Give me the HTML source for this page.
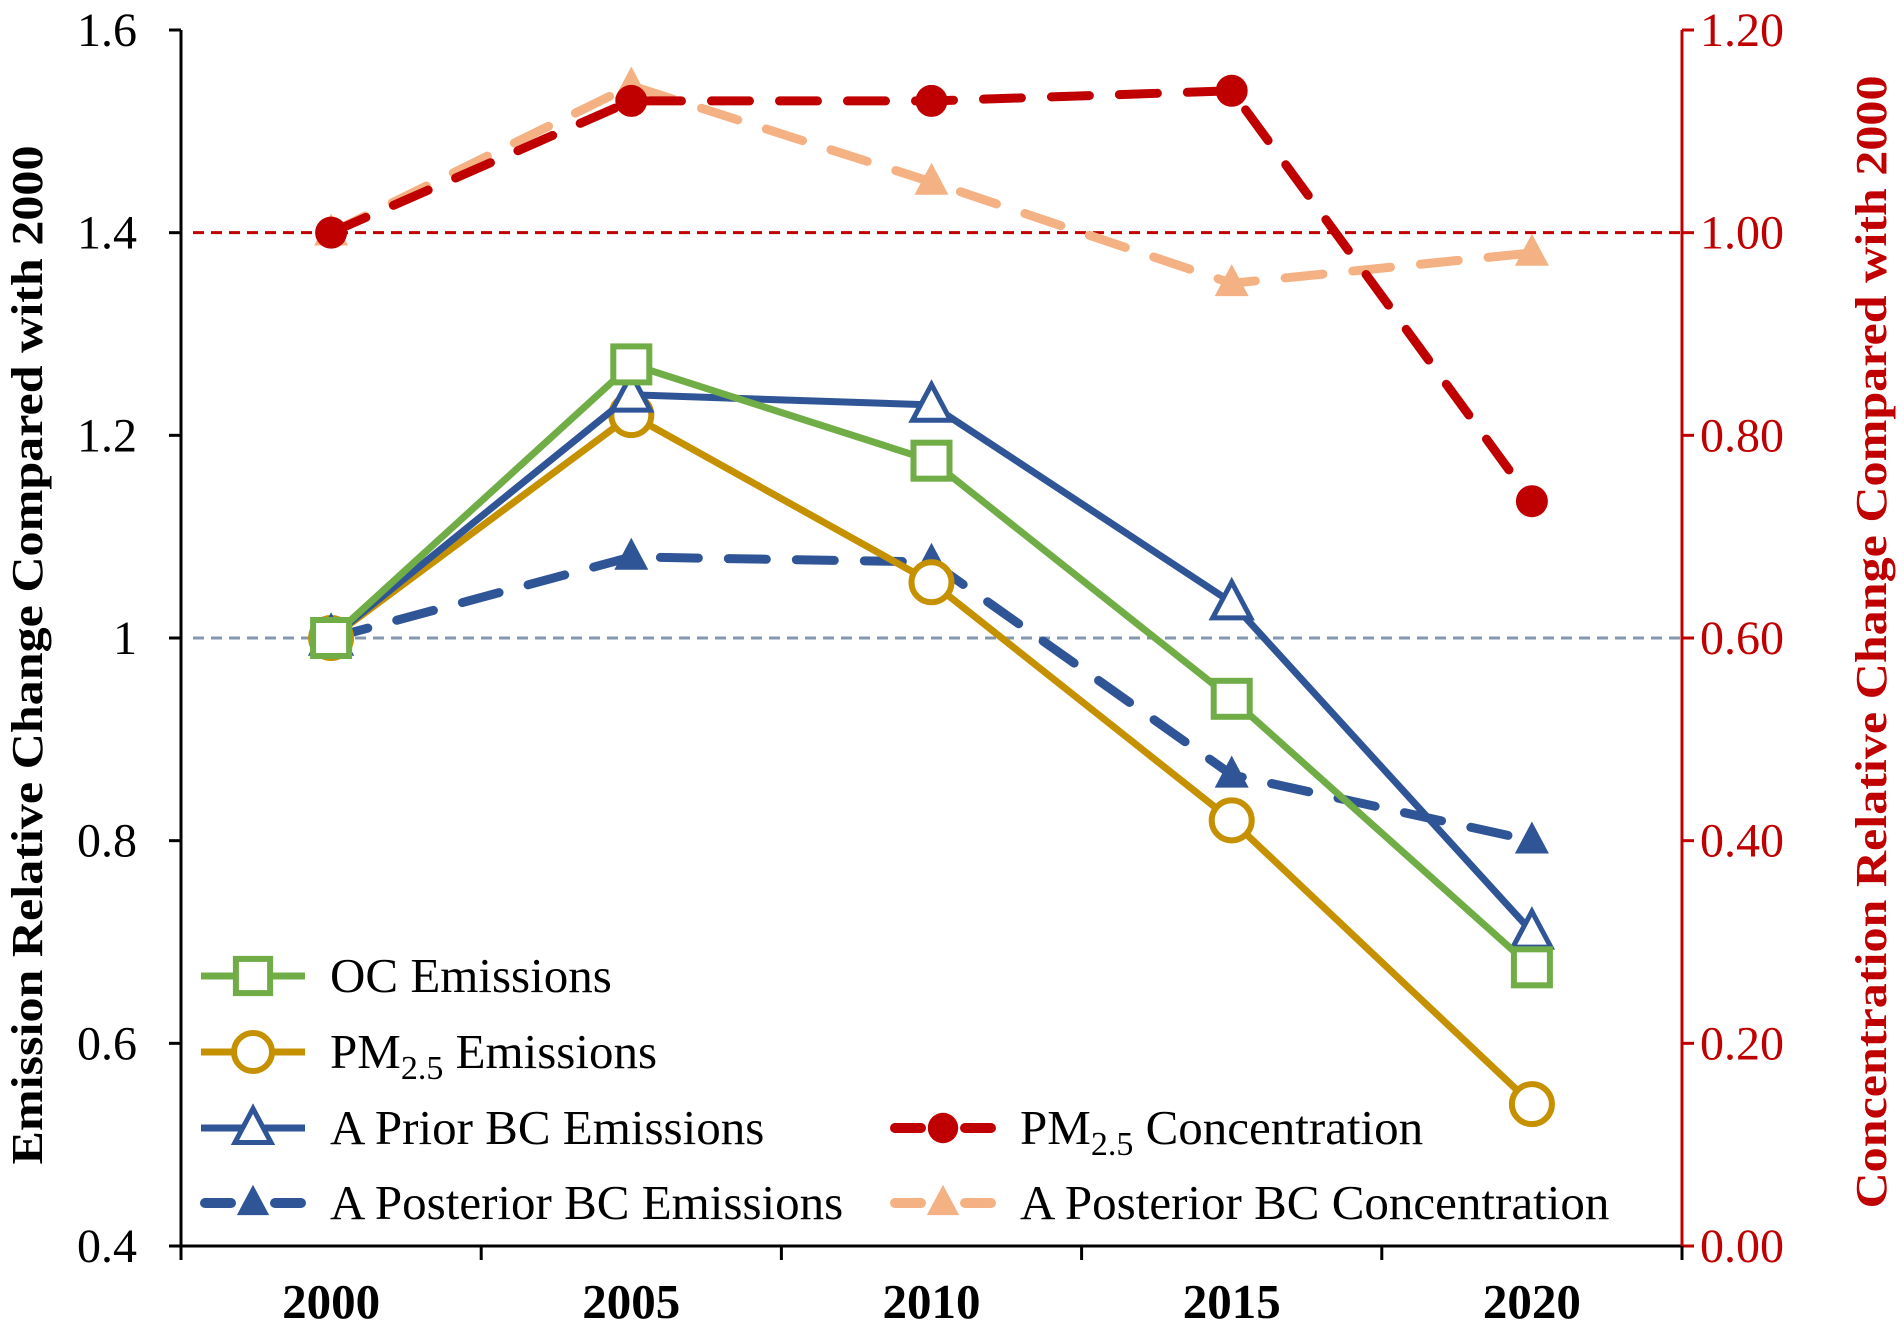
<!DOCTYPE html>
<html><head><meta charset="utf-8"><style>
html,body{margin:0;padding:0;background:#fff;}
svg{display:block;font-family:"Liberation Serif",serif;}
</style></head><body>
<svg id="chart" width="1904" height="1326" viewBox="0 0 1904 1326" xmlns="http://www.w3.org/2000/svg">
<g id="grid"></g><g id="series"></g><g id="axes"></g><g id="legend"></g>
</svg>
<script>
const categories = ["2000","2005","2010","2015","2020"];
const ocEmissions = [1.0, 1.27, 1.175, 0.94, 0.675];
const pmEmissions = [1.0, 1.22, 1.055, 0.82, 0.54];
const priorBC = [1.0, 1.24, 1.23, 1.035, 0.71];
const posteriorBC = [1.0, 1.08, 1.075, 0.865, 0.80];
const pmConc = [1.00, 1.13, 1.13, 1.14, 0.735];
const postBCConc = [1.00, 1.145, 1.05, 0.95, 0.98];
const leftTicks = ["0.4","0.6","0.8","1","1.2","1.4","1.6"];
const leftTickValues = [0.4,0.6,0.8,1.0,1.2,1.4,1.6];
const rightTicks = ["0.00","0.20","0.40","0.60","0.80","1.00","1.20"];
const rightTickValues = [0,0.2,0.4,0.6,0.8,1.0,1.2];

const NS="http://www.w3.org/2000/svg";
const X0=181, X1=1682, YB=1246, YT=30;
const band=(X1-X0)/categories.length;
const xs=i=>X0+band*(i+0.5);
const yL=v=>YB-(v-0.4)/1.2*(YB-YT);
const yR=v=>YB-v/1.2*(YB-YT);
function mk(tag,attrs,parent){const e=document.createElementNS(NS,tag);for(const k in attrs)e.setAttribute(k,attrs[k]);parent.appendChild(e);return e;}
const gGrid=document.getElementById('grid'),gS=document.getElementById('series'),gA=document.getElementById('axes'),gL=document.getElementById('legend');

let r1=mk('line',{x1:X0+12,x2:X1,y1:yR(1),y2:yR(1),stroke:'#c00000','stroke-width':3,'stroke-dasharray':'11 7'},gGrid);


let r2=mk('line',{x1:X0+12,x2:X1,y1:yL(1),y2:yL(1),stroke:'#8497b0','stroke-width':3,'stroke-dasharray':'11 7'},gGrid);



function marker(type,x,y,color,parent,scale){
  scale=scale||1;let e;
  if(type==='square'){const s=36*scale;e=mk('rect',{x:x-s/2,y:y-s/2,width:s,height:s,fill:'#fff',stroke:color,'stroke-width':6},parent);}
  else if(type==='circle'){e=mk('circle',{cx:x,cy:y,r:20*scale,fill:'#fff',stroke:color,'stroke-width':6},parent);}
  else if(type==='dot'){e=mk('circle',{cx:x,cy:y,r:16*scale,fill:color},parent);}
  else if(type==='tri'){const h=34*scale,w=38*scale;e=mk('polygon',{points:`${x},${y-h*0.6} ${x-w/2},${y+h*0.45} ${x+w/2},${y+h*0.45}`,fill:'#fff',stroke:color,'stroke-width':5,'stroke-linejoin':'miter'},parent);}
  else if(type==='ftri'){const h=32*scale,w=34*scale;e=mk('polygon',{points:`${x},${y-h*0.6} ${x-w/2},${y+h*0.4} ${x+w/2},${y+h*0.4}`,fill:color},parent);}
  return e;
}
const seriesDefs=[
 {name:'posterior-bc-concentration',data:postBCConc,axis:yR,color:'#f4b183',dash:'38 30',m:'ftri'},
 {name:'pm25-concentration',data:pmConc,axis:yR,color:'#c00000',dash:'38 30',m:'dot'},
 {name:'posterior-bc-emissions',data:posteriorBC,axis:yL,color:'#2f5597',dash:'38 30',m:'ftri'},
 {name:'pm25-emissions',data:pmEmissions,axis:yL,color:'#c59100',dash:null,m:'circle'},
 {name:'prior-bc-emissions',data:priorBC,axis:yL,color:'#2f5597',dash:null,m:'tri'},
 {name:'oc-emissions',data:ocEmissions,axis:yL,color:'#70ad47',dash:null,m:'square'}
];
seriesDefs.forEach(s=>{
  const g=mk('g',{},gS);
  
  
  const pts=s.data.map((v,i)=>xs(i)+','+s.axis(v)).join(' ');
  const a={points:pts,fill:'none',stroke:s.color,'stroke-width':s.dash?9:7,'stroke-linejoin':'round','stroke-linecap':s.dash?'round':'butt'};
  if(s.dash)a['stroke-dasharray']=s.dash;
  const pl=mk('polyline',a,g);
  
  
  s.data.forEach((v,i)=>{
    const m=marker(s.m,xs(i),s.axis(v),s.color,g);
    
    
  });
});

const ax=mk('path',{d:`M${X0},${YT} L${X0},${YB} L${X1},${YB}`,fill:'none',stroke:'#000','stroke-width':3},gA);


const rax=mk('line',{x1:X1,x2:X1,y1:YT,y2:YB,stroke:'#c00000','stroke-width':3},gA);


leftTickValues.forEach((v,i)=>{
  mk('line',{x1:X0-12,x2:X0,y1:yL(v),y2:yL(v),stroke:'#000','stroke-width':3},gA);
  const t=mk('text',{x:137,y:yL(v)+16,'text-anchor':'end','font-size':48,fill:'#000'},gA);
  t.textContent=leftTicks[i];
  
  
});
rightTickValues.forEach((v,i)=>{
  mk('line',{x1:X1,x2:X1+12,y1:yR(v),y2:yR(v),stroke:'#c00000','stroke-width':3},gA);
  const t=mk('text',{x:1700,y:yR(v)+16,'font-size':48,fill:'#c00000'},gA);
  t.textContent=rightTicks[i];
  
  
});
for(let i=0;i<=categories.length;i++){
  mk('line',{x1:X0+band*i,x2:X0+band*i,y1:YB,y2:YB+14,stroke:'#000','stroke-width':3},gA);
}
categories.forEach((c,i)=>{
  const t=mk('text',{x:xs(i),y:1318,'text-anchor':'middle','font-size':49,'font-weight':'bold',fill:'#000'},gA);
  t.textContent=c;
  
  
});
const lt=mk('text',{x:0,y:0,'text-anchor':'middle','font-size':44,'font-weight':'bold',fill:'#000',textLength:1019,lengthAdjust:'spacingAndGlyphs',transform:`translate(42,655) rotate(-90)`},gA);
lt.textContent='Emission Relative Change Compared with 2000';


const rt=mk('text',{x:0,y:0,'text-anchor':'middle','font-size':44,'font-weight':'bold',fill:'#c00000',textLength:1133,lengthAdjust:'spacingAndGlyphs',transform:`translate(1886,642) rotate(-90)`},gA);
rt.textContent='Concentration  Relative Change Compared with 2000';



const legendItems=[
 {x:201,y:976,label:'OC Emissions',color:'#70ad47',m:'square',dash:false,sub:false},
 {x:201,y:1052,label:'PM|Emissions',color:'#c59100',m:'circle',dash:false,sub:true},
 {x:201,y:1128,label:'A Prior BC Emissions',color:'#2f5597',m:'tri',dash:false,sub:false},
 {x:201,y:1203,label:'A Posterior BC Emissions',color:'#2f5597',m:'ftri',dash:true,sub:false},
 {x:891,y:1128,label:'PM|Concentration',color:'#c00000',m:'dot',dash:true,sub:true},
 {x:891,y:1203,label:'A Posterior BC Concentration',color:'#f4b183',m:'ftri',dash:true,sub:false}
];
legendItems.forEach(it=>{
  const g=mk('g',{},gL);
  
  
  if(it.dash){
    mk('line',{x1:it.x+4,x2:it.x+30,y1:it.y,y2:it.y,stroke:it.color,'stroke-width':10,'stroke-linecap':'round'},g);
    mk('line',{x1:it.x+74,x2:it.x+100,y1:it.y,y2:it.y,stroke:it.color,'stroke-width':10,'stroke-linecap':'round'},g);
  } else {
    mk('line',{x1:it.x,x2:it.x+104,y1:it.y,y2:it.y,stroke:it.color,'stroke-width':7},g);
  }
  marker(it.m,it.x+52,it.y,it.color,g,0.95);
  const t=mk('text',{x:it.x+129,y:it.y+16,'font-size':49,fill:'#000'},g);
  if(it.sub){
    const parts=it.label.split('|');
    const a=mk('tspan',{},t);a.textContent=parts[0];
    const b=mk('tspan',{dy:11,'font-size':34},t);b.textContent='2.5';
    const c=mk('tspan',{dy:-11},t);c.textContent=' '+parts[1];
  } else t.textContent=it.label;
});
</script>
</body></html>
